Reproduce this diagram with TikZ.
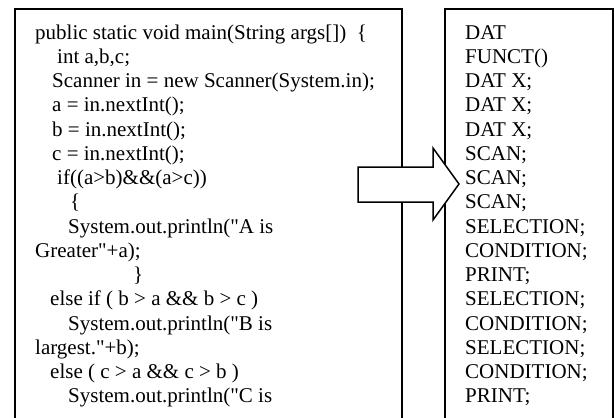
\documentclass[tikz,border=0pt]{standalone}
\usepackage{fontspec}
\setmainfont{Liberation Serif}[Ligatures=TeXOff]
\begin{document}
\begin{tikzpicture}[x=1pt,y=-1pt,
  codeline/.style={anchor=base west, inner sep=0pt, font=\fontsize{21}{24}\selectfont},
  boxline/.style={line width=1.5pt},
  blockarrow/.style={line width=1.5pt, fill=white, line join=miter}]
\useasboundingbox (0,0) rectangle (614,418);
\clip (0,0) rectangle (614,418);
% boxes (bottom edges fall outside the picture)
\draw[boxline] (15,9) rectangle (402,440);
\draw[boxline] (445,9) rectangle (613,440);
% left: source code
\node[codeline] (L1)  at (35,39)     {public static void main(String args[])\ \ \{};
\node[codeline] (L2)  at (57,63.25)  {int a,b,c;};
\node[codeline] (L3)  at (52,87.5)   {Scanner in = new Scanner(System.in);};
\node[codeline] (L4)  at (52,111.75) {a = in.nextInt();};
\node[codeline] (L5)  at (52,136)    {b = in.nextInt();};
\node[codeline] (L6)  at (52,160.25) {c = in.nextInt();};
\node[codeline] (L7)  at (57,184.5)  {if((a>b)\&\&(a>c))};
\node[codeline] (L8)  at (70,208.75) {\{};
\node[codeline] (L9)  at (68,233)    {System.out.println("A is};
\node[codeline] (L10) at (35,257.25) {Greater"+a);};
\node[codeline] (L11) at (133,281.5) {\}};
\node[codeline] (L12) at (50,305.75) {else if ( b > a \&\& b > c )};
\node[codeline] (L13) at (68,330)    {System.out.println("B is};
\node[codeline] (L14) at (35,354.25) {largest."+b);};
\node[codeline] (L15) at (50,378.5)  {else ( c > a \&\& c > b )};
\node[codeline] (L16) at (68,402.75) {System.out.println("C is};
% right: token sequence
\node[codeline] (R1)  at (465,39)     {DAT};
\node[codeline] (R2)  at (465,63.25)  {FUNCT()};
\node[codeline] (R3)  at (465,87.5)   {DAT X;};
\node[codeline] (R4)  at (465,111.75) {DAT X;};
\node[codeline] (R5)  at (465,136)    {DAT X;};
\node[codeline] (R6)  at (465,160.25) {SCAN;};
\node[codeline] (R7)  at (465,184.5)  {SCAN;};
\node[codeline] (R8)  at (465,208.75) {SCAN;};
\node[codeline] (R9)  at (465,233)    {SELECTION;};
\node[codeline] (R10) at (465,257.25) {CONDITION;};
\node[codeline] (R11) at (465,281.5)  {PRINT;};
\node[codeline] (R12) at (465,305.75) {SELECTION;};
\node[codeline] (R13) at (465,330)    {CONDITION;};
\node[codeline] (R14) at (465,354.25) {SELECTION;};
\node[codeline] (R15) at (465,378.5)  {CONDITION;};
\node[codeline] (R16) at (465,402.75) {PRINT;};
% block arrow
\draw[blockarrow] (358,167) -- (433,167) -- (433,148) -- (459,184)
  -- (433,220) -- (433,202) -- (358,202) -- cycle;
\end{tikzpicture}
\end{document}
